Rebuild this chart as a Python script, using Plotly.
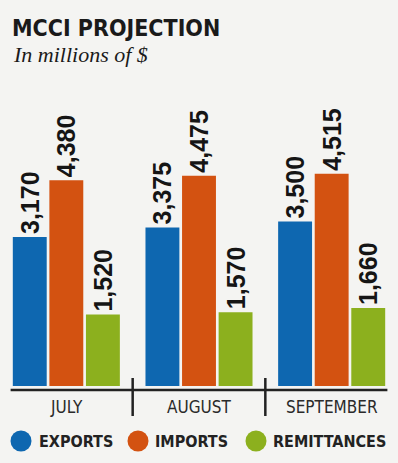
import plotly.graph_objects as go

months = ["JULY", "AUGUST", "SEPTEMBER"]
series_names = ["EXPORTS", "IMPORTS", "REMITTANCES"]
exports = [3170, 3375, 3500]
imports = [4380, 4475, 4515]
remittances = [1520, 1570, 1660]
colors = ["#0e67b0", "#d35211", "#8cb01e"]

W, H = 398, 463
T, B = 60, 77
PH = H - T - B  # plot height in px

COND = "DejaVu Sans Condensed, Liberation Sans Narrow, sans-serif"


def py(p):
    """pixel y -> paper y"""
    return (H - B - p) / PH


def px(p):
    return p / W


BG = "#f4f4f2"
fig = go.Figure()
for name, vals, col in zip(series_names, [exports, imports, remittances], colors):
    fig.add_trace(go.Bar(
        x=months, y=vals, name=name, marker=dict(color=col, line=dict(width=0)),
        texttemplate="<b>%{y:,}</b>", textposition="outside", textangle=-90,
        constraintext="none", cliponaxis=False,
        outsidetextfont=dict(family="Liberation Sans, Arial, sans-serif", size=25, color="#151515"),
        showlegend=False, hoverinfo="skip",
    ))

shapes = []
# baseline
shapes.append(dict(type="line", xref="x", yref="paper", x0=-0.42, x1=2.42,
                   y0=py(390), y1=py(390), line=dict(color="#222", width=2.5)))
# separators
for xs in [0.5, 1.5]:
    shapes.append(dict(type="line", xref="x", yref="paper", x0=xs, x1=xs,
                       y0=py(378), y1=py(416), line=dict(color="#222", width=2.5)))

annotations = []
for i, m in enumerate(months):
    annotations.append(dict(x=m, y=py(407), xref="x", yref="paper", text=m, showarrow=False,
                            xanchor="center", yanchor="middle",
                            font=dict(family=COND, size=17, color="#2a2a2a")))

# legend
circle_cx = [21, 138, 256]
text_x = [37, 153, 271]
r = 10.5
for name, col, cx, tx in zip(series_names, colors, circle_cx, text_x):
    shapes.append(dict(type="circle", xref="paper", yref="paper",
                       x0=px(cx - r), x1=px(cx + r), y0=py(441 + r), y1=py(441 - r),
                       fillcolor=col, line=dict(width=0)))
    annotations.append(dict(x=px(tx), y=py(442), xref="paper", yref="paper", text="<b>" + name + "</b>",
                            showarrow=False, xanchor="left", yanchor="middle",
                            font=dict(family=COND, size=16, color="#222")))

# title & subtitle
annotations.append(dict(x=px(10), y=py(28), xref="paper", yref="paper", text="<b>MCCI PROJECTION</b>",
                        showarrow=False, xanchor="left", yanchor="middle",
                        font=dict(family=COND, size=23, color="#1a1a1a")))
annotations.append(dict(x=px(11), y=py(54), xref="paper", yref="paper", text="<i>In millions of $</i>",
                        showarrow=False, xanchor="left", yanchor="middle",
                        font=dict(family="Liberation Serif, Times New Roman, serif", size=22, color="#1a1a1a")))

fig.update_layout(
    width=W, height=H, barmode="group", bargap=0.173, bargroupgap=0.073,
    margin=dict(l=0, r=0, t=T, b=B),
    paper_bgcolor=BG, plot_bgcolor=BG,
    xaxis=dict(range=[-0.5, 2.5], showticklabels=False, showgrid=False, zeroline=False, showline=False,
               fixedrange=True),
    yaxis=dict(range=[0, PH / 0.047], visible=False, fixedrange=True),
    shapes=shapes, annotations=annotations,
)
fig.write_html("out.html", config={"displayModeBar": False},
               post_script="document.body.style.margin='0';document.body.style.overflow='hidden';")
